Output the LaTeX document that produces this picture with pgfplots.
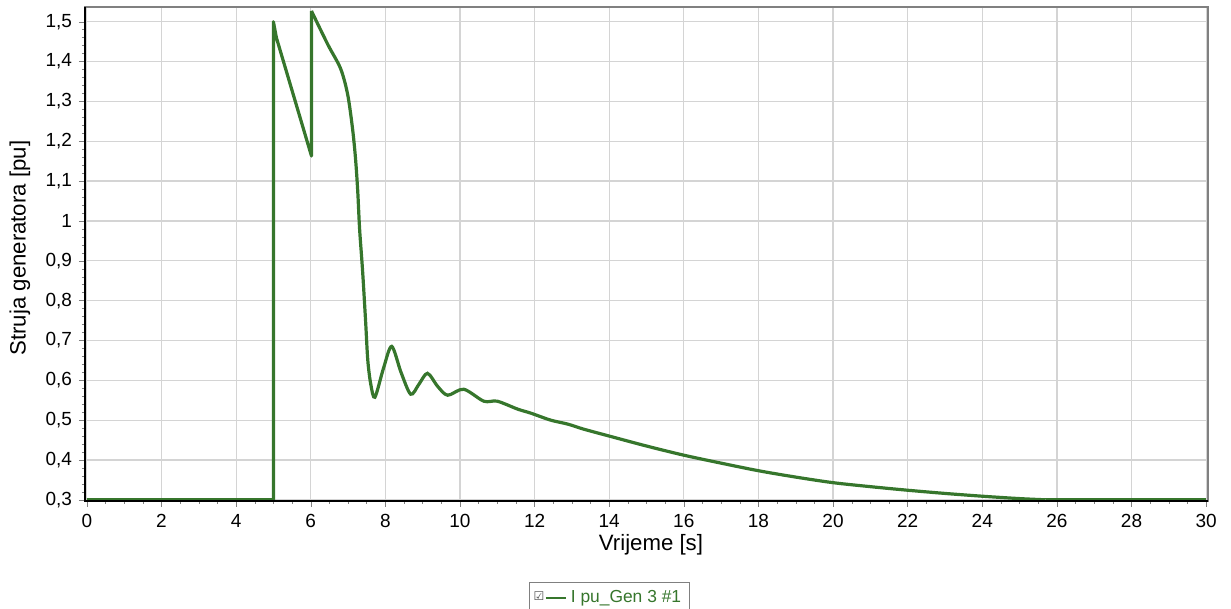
\documentclass[border=0pt]{standalone}
\usepackage{fontspec}
\setmainfont{Liberation Sans}
\newfontfamily\symfont{DejaVu Sans}
\usepackage{pgfplots}
\pgfplotsset{compat=1.18}
\usetikzlibrary{calc}
\definecolor{gencol}{RGB}{54,118,44}
\definecolor{gridgray}{RGB}{212,212,212}
\begin{document}
\begin{tikzpicture}
\begin{axis}[
  scale only axis,
  width=561.5pt, height=247pt,
  xmin=-0.05, xmax=30.05,
  ymin=0.297, ymax=1.537,
  xtick distance=2, ytick distance=0.1,
  minor x tick num=3, minor y tick num=4,
  tick pos=left, tick align=outside,
  major tick length=3pt, minor tick length=1.5pt,
  grid=major, grid style={gridgray, line width=0.6pt},
  axis line style={gray, line width=0.8pt},
  /pgf/number format/assume math mode=true,
  yticklabel style={/pgf/number format/.cd, fixed, precision=1, use comma},
  tick label style={font=\fontsize{9.5}{11}\selectfont},
  xlabel={Vrijeme [s]}, ylabel={Struja generatora [pu]},
  every axis x label/.style={at={(rel axis cs:0.504,0)}, yshift=-22pt, anchor=center,
    font=\fontsize{11.1}{13}\selectfont},
  every axis y label/.style={at={(rel axis cs:0,0.512)}, xshift=-32.5pt, rotate=90, anchor=center,
    font=\fontsize{11.1}{13}\selectfont},
  legend style={at={(0.467,0)}, anchor=north, yshift=-40.5pt, draw=gray,
    font=\fontsize{8.7}{10}\selectfont, text=gencol, inner sep=2pt},
  legend image code/.code={
    \node[font=\symfont\fontsize{6}{6}\selectfont, inner sep=0pt, text=black!70] at (0.08cm,0) {☑};
    \draw[#1, line width=1pt] (0.2cm,0cm) -- (0.55cm,0cm);},
]
\addplot[gencol, line width=1.6pt, line join=round] coordinates {
  (0,0.3)(5.0,0.3)(5.0,1.5)(5.08,1.46)(6.02,1.163)(6.02,1.527)
};
\addlegendentry{I pu\_Gen 3 \#1}
\addplot[gencol, line width=1.6pt, smooth, tension=0.5, forget plot] coordinates {
  (6.02,1.527)(6.46,1.4425)(6.8,1.3825)(6.99,1.3175)(7.12,1.2325)(7.2,1.1575)
  (7.26,1.075)(7.31,0.98)(7.39,0.875)(7.47,0.75)(7.53,0.65)(7.61,0.59)
  (7.72,0.5575)(7.95,0.63)(8.17,0.685)(8.42,0.62)(8.68,0.565)(8.9,0.59)
  (9.13,0.6175)(9.4,0.585)(9.67,0.5625)(10.1,0.5775)(10.64,0.5475)(11.0,0.5475)
  (11.55,0.5275)(11.9,0.5175)(12.43,0.5)(12.89,0.49)(13.31,0.4775)(14,0.46)
  (15,0.435)(16,0.412)(17,0.392)(18,0.373)(19,0.357)(20,0.343)(21,0.333)
  (22,0.324)(23,0.316)(24,0.309)(25,0.303)(25.7,0.3)
};
\addplot[gencol, line width=1.6pt, forget plot] coordinates {
  (25.7,0.3)(30,0.3)
};
\end{axis}
\draw[black, line width=1pt] (current axis.north west) -- (current axis.south west) -- (current axis.south east);
\pgfresetboundingbox
\path[use as bounding box] ($(current axis.south west)+(-42.5pt,-54pt)$) rectangle ($(current axis.north east)+(11.5pt,3.5pt)$);
\end{tikzpicture}
\end{document}
